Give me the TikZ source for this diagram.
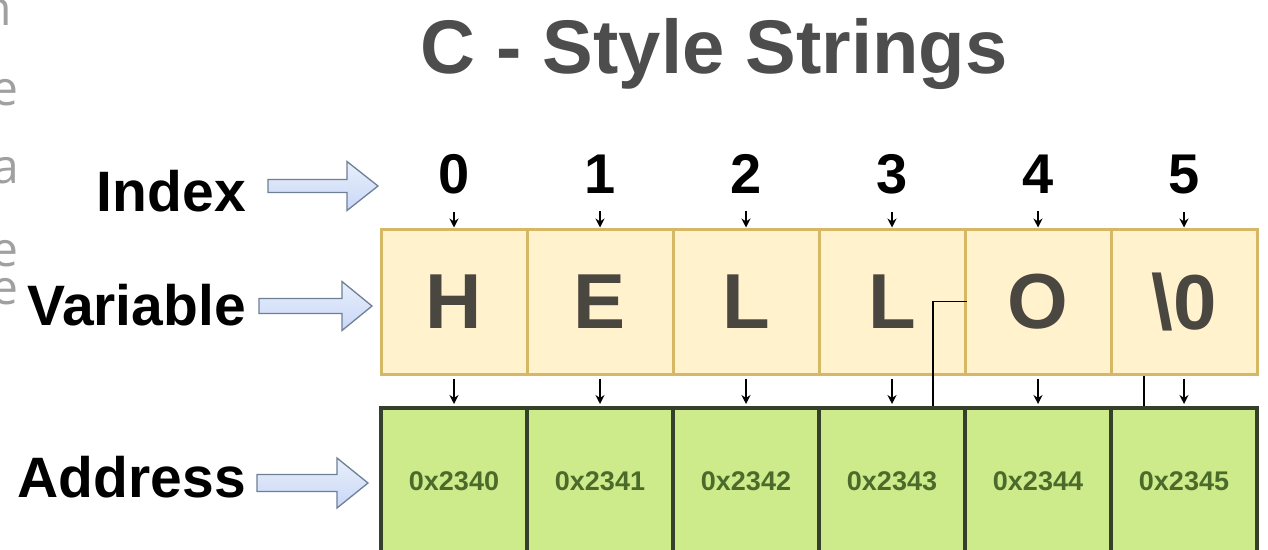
\documentclass[tikz,border=0pt]{standalone}
\usepackage{fontspec}
\setmainfont{Liberation Sans}
\newfontfamily\sidefont{Open Sans}
\usetikzlibrary{arrows.meta}

\definecolor{titlegray}{HTML}{4D4D4D}
\definecolor{yfill}{HTML}{FFF2CC}
\definecolor{yline}{HTML}{D4B866}
\definecolor{gfill}{HTML}{CDEB8B}
\definecolor{gline}{HTML}{34402A}
\definecolor{addrtext}{HTML}{4C6A2A}
\definecolor{lettertext}{HTML}{4A4640}
\definecolor{arrowfill}{HTML}{D2E3F6}
\definecolor{arrowline}{HTML}{6F8096}
\definecolor{sidegray}{HTML}{A0A0A0}

% block arrow: start x, head base x, tip x, centre y, half shaft, half head
\newcommand{\fatarrow}[6]{%
  \path[bluearrow] (#1,#4-#5) -- (#2,#4-#5) -- (#2,#4-#6) -- (#3,#4)
    -- (#2,#4+#6) -- (#2,#4+#5) -- (#1,#4+#5) -- cycle;}

\begin{document}
\begin{tikzpicture}[x=1pt,y=-1pt,
  cellY/.style={draw=yline, fill=yfill, line width=3pt,
    minimum width=146pt, minimum height=145pt, inner sep=0pt,
    text=lettertext, font=\fontsize{78}{80}\selectfont\bfseries},
  cellG/.style={draw=gline, fill=gfill, line width=4pt,
    minimum width=146pt, minimum height=146pt, inner sep=0pt,
    text=addrtext, font=\fontsize{27}{30}\selectfont\bfseries},
  digit/.style={anchor=base, inner sep=0pt,
    font=\fontsize{56}{60}\selectfont\bfseries},
  rowlabel/.style={anchor=base east, inner sep=0pt,
    font=\fontsize{57}{60}\selectfont\bfseries},
  bluearrow/.style={draw=arrowline, line width=1.3pt,
    top color=arrowfill!55!white, bottom color=arrowfill!90!blue!80},
  tick/.style={-{Stealth[length=9pt,width=9pt]}, line width=1.5pt},
  wire/.style={line width=1.2pt}]

\useasboundingbox (0,0) rectangle (1268,549);
\clip (0,0) rectangle (1268,549);
\fill[white] (0,0) rectangle (1268,549);

% cut-off text along the left margin
\begin{scope}
  \clip (0,0) rectangle (19,549);
  \begin{scope}[every node/.style={anchor=base east, inner sep=0pt,
      text=sidegray, font=\sidefont\fontsize{48}{50}\selectfont}]
    \node (s1) at (12,25)  {n};
    \node (s2) at (19,105) {e};
    \node (s3) at (19,183) {a};
    \node (s4) at (19,266) {e};
    \node (s5) at (19,304) {e};
  \end{scope}
\end{scope}

% title
\node[anchor=base, inner sep=0pt, text=titlegray,
  font=\fontsize{76}{80}\selectfont\bfseries] (title) at (714,73)
  {C - Style Strings};

% row labels
\node[rowlabel] (lidx) at (246,211) {Index};
\node[rowlabel] (lvar) at (246,325) {Variable};
\node[rowlabel] (ladr) at (246,497) {Address};

\fatarrow{268}{347}{378}{186}{6.5}{24.5}
\fatarrow{259}{342}{372}{306}{7.5}{24.5}
\fatarrow{257}{337}{368}{483}{8.5}{25}

% cells, indices and addresses
\foreach \i/\ch in {0/H,1/E,2/L,3/L,4/O,5/\textbackslash 0}{
  \node[cellY] (y\i) at (454+146*\i,301.5) {\ch};
  \node[cellG] (g\i) at (454+146*\i,481) {0x234\i};
  \node[digit] (d\i) at (454+146*\i,193) {\i};
  \draw[tick, shorten <=18pt] (d\i.south) -- (y\i.north);
  \draw[tick, shorten <=3pt, shorten >=2pt] (y\i.south) -- (g\i.north);
}

% extra wires
\draw[wire] (y3.east) -| ([xshift=41pt]g3.north);
\draw[wire] ([xshift=-40pt]y5.south) -- ([xshift=-40pt]g5.north);

\end{tikzpicture}
\end{document}
